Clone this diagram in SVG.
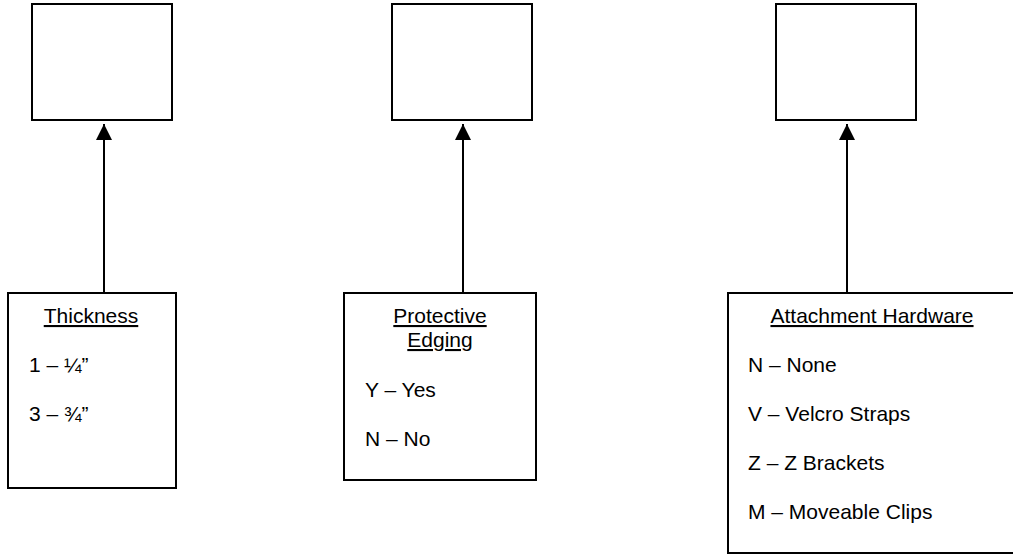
<svg xmlns="http://www.w3.org/2000/svg" width="1013" height="554" viewBox="0 0 1013 554">
<defs>
<style>
.box{fill:#fff;stroke:#000;stroke-width:2}
.t{font-family:"Liberation Sans",Arial,sans-serif;font-size:21px;fill:#000}
.h{text-decoration:underline;text-anchor:middle}
.c{stroke:#000;stroke-width:2;fill:none}
</style>
<marker id="ah" markerUnits="userSpaceOnUse" markerWidth="16" markerHeight="16" refX="16" refY="8" orient="auto">
<path d="M0,0 L16,8 L0,16 Z" fill="#000"/>
</marker>
</defs>
<rect width="1013" height="554" fill="#fff"/>
<g id="top-left"><rect class="box" x="32" y="4" width="140" height="116"/></g>
<g id="top-middle"><rect class="box" x="392" y="4" width="140" height="116"/></g>
<g id="top-right"><rect class="box" x="776" y="4" width="140" height="116"/></g>
<g id="thickness">
<rect class="box" x="8" y="293" width="168" height="195"/>
<text class="t h" x="91" y="323">Thickness</text>
<text class="t" x="29" y="372">1 – ¼”</text>
<text class="t" x="29" y="421">3 – ¾”</text>
</g>
<g id="protective-edging">
<rect class="box" x="344" y="293" width="192" height="187"/>
<text class="t h" x="440" y="323">Protective</text>
<text class="t h" x="440" y="347">Edging</text>
<text class="t" x="365" y="397">Y – Yes</text>
<text class="t" x="365" y="446">N – No</text>
</g>
<g id="attachment-hardware">
<rect class="box" x="728" y="293" width="290" height="260"/>
<text class="t h" x="872" y="323">Attachment Hardware</text>
<text class="t" x="748" y="372">N – None</text>
<text class="t" x="748" y="421">V – Velcro Straps</text>
<text class="t" x="748" y="470">Z – Z Brackets</text>
<text class="t" x="748" y="519">M – Moveable Clips</text>
</g>
<g id="connectors">
<line class="c" x1="104" y1="293" x2="104" y2="124" marker-end="url(#ah)"/>
<line class="c" x1="463" y1="293" x2="463" y2="124" marker-end="url(#ah)"/>
<line class="c" x1="847" y1="293" x2="847" y2="124" marker-end="url(#ah)"/>
</g>
</svg>
